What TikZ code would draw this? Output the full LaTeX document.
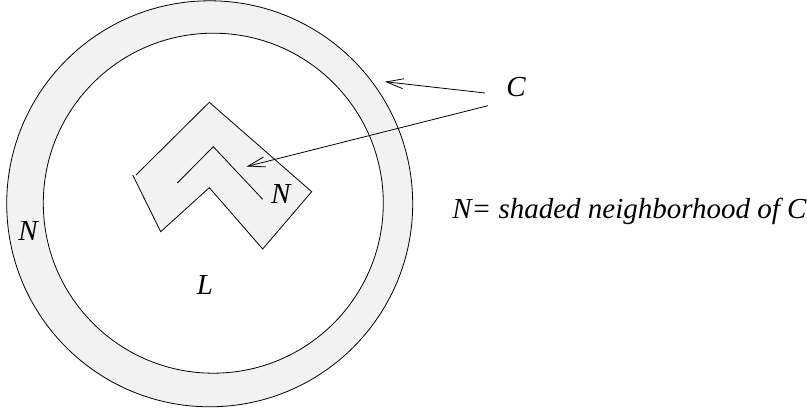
\documentclass[tikz,border=0pt]{standalone}
\usepackage{fontspec}
\setmainfont{Liberation Serif}
\usepackage{tikz}
\usetikzlibrary{arrows.meta,calc}

\begin{document}
\begin{tikzpicture}[x=1pt,y=-1pt,line width=0.8pt,
  nbhd/.style={fill=black!5},
  lbl/.style={font=\fontsize{29}{33}\selectfont\itshape,inner sep=0pt,anchor=base},
  ptr/.style={-{Straight Barb[length=17pt,width=10pt]}}]
\useasboundingbox (0,0) rectangle (807,411);
% shaded ring round the disc L
\fill[nbhd,even odd rule] (209.7,203.8) circle[radius=203pt]
  (213.3,203.2) circle[radius=170pt];
\draw (209.7,203.8) circle[radius=203pt];
\draw (213.3,203.2) circle[radius=170pt];
% shaded neighbourhood of the bent curve
\fill[nbhd] (136,175) -- (209.3,102.3) -- (311.7,191.7) -- (262.7,249)
  -- (209.3,187.7) -- (160.7,231.7) -- (132.7,175) -- cycle;
\draw (136,175) -- (209.3,102.3) -- (311.7,191.7) -- (262.7,249)
  -- (209.3,187.7) -- (160.7,231.7) -- (132.7,175);
% the curve C itself
\draw (177.3,183) -- (213.3,146.7) -- (262.7,199.3);
% labels
\node[lbl] (C) at (516,97) {C};
\node[lbl] (Nin) at (280.7,203.3) {N};
\node[lbl] (Nout) at (28,241) {N};
\node[lbl] (L) at (205,295) {L};
\node[lbl,anchor=base west] (cap) at (452,219) {N= shaded neighborhood of C};
% pointers from C
\coordinate (ringTip) at (385,81.7);
\coordinate (curveTip) at (246.7,166.5);
\draw[ptr] ($(C.base west)+(-21,-4)$) -- (ringTip);
\draw[ptr] ($(C.base west)+(-18,8.7)$) -- (curveTip);
\end{tikzpicture}
\end{document}
